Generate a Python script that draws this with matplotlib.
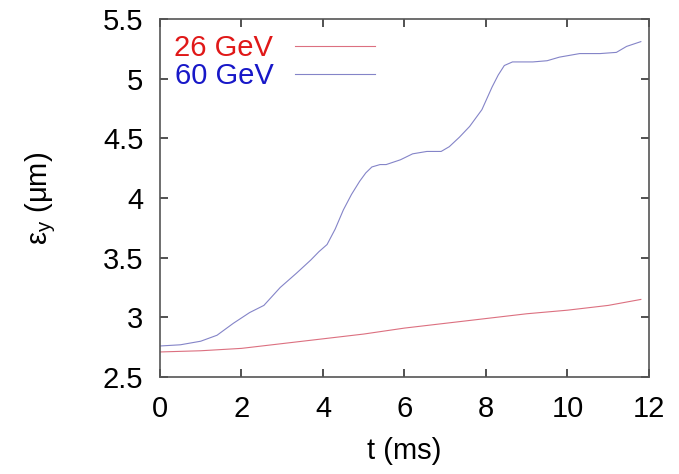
import numpy as np
import matplotlib.pyplot as plt

plt.rcParams['font.family'] = ['Liberation Sans', 'DejaVu Sans']

# emittance growth
t_60 = [0.0, 0.5, 1.0, 1.4, 1.8, 2.2, 2.55, 2.95, 3.35, 3.7, 3.9, 4.1, 4.3, 4.5,
        4.7, 4.9, 5.05, 5.2, 5.4, 5.55, 5.9, 6.2, 6.55, 6.9, 7.1, 7.35, 7.6,
        7.9, 8.15, 8.3, 8.45, 8.65, 9.15, 9.5, 9.8, 10.3, 10.8, 11.2, 11.45, 11.8]
eps_60 = [2.76, 2.77, 2.80, 2.85, 2.95, 3.04, 3.10, 3.25, 3.37, 3.48, 3.55, 3.61,
          3.74, 3.90, 4.03, 4.14, 4.21, 4.26, 4.28, 4.28, 4.32, 4.37, 4.39, 4.39,
          4.43, 4.51, 4.60, 4.74, 4.93, 5.03, 5.11, 5.14, 5.14, 5.15, 5.18, 5.21,
          5.21, 5.22, 5.27, 5.31]

t_26 = [0, 1, 2, 3, 4, 5, 6, 7, 8, 9, 10, 11, 11.8]
eps_26 = [2.71, 2.72, 2.74, 2.78, 2.82, 2.86, 2.91, 2.95, 2.99, 3.03, 3.06, 3.10, 3.15]

fig = plt.figure(figsize=(6.79, 4.74), dpi=100)
ax = fig.add_axes([0.2356, 0.2046, 0.7202, 0.7554])

ax.plot(t_26, eps_26, color='#dc7080', lw=0.8, label='26 GeV')
ax.plot(t_60, eps_60, color='#8484c8', lw=0.8, label='60 GeV')

ax.set_xlim(0, 12)
ax.set_ylim(2.5, 5.5)
ax.set_xticks(np.arange(0, 13, 2))
ax.set_yticks(np.arange(2.5, 5.6, 0.5))
ax.set_yticklabels(['2.5', '3', '3.5', '4', '4.5', '5', '5.5'])

for s in ax.spines.values():
    s.set_color('#555555')
    s.set_linewidth(1.2)
ax.tick_params(direction='in', top=True, right=True, length=6, width=1.2,
               color='#333333', labelsize=21)
ax.tick_params(axis='x', pad=13)
ax.tick_params(axis='y', pad=12)

ax.set_xlabel('t (ms)', fontsize=21, labelpad=10)
ax.set_ylabel(r'$\mathregular{\varepsilon_y}$ (μm)', fontsize=21, labelpad=32)

leg = ax.legend(loc='upper left', bbox_to_anchor=(-0.024, 1.03), frameon=False,
                markerfirst=False, handlelength=2.75, handletextpad=0.75,
                labelspacing=0.0, fontsize=21, labelcolor=['#e01818', '#1818c8'])

fig.savefig('out.png', dpi=100)
